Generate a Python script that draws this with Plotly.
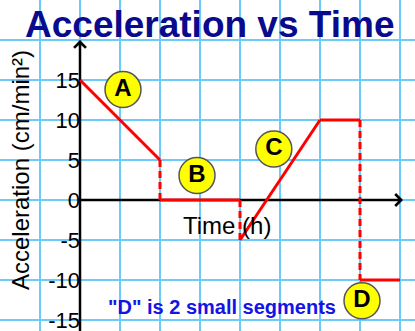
import plotly.graph_objects as go

# ---- data ----
# solid segments (time, acceleration)
seg_a_t = [0, 2];  seg_a_v = [15, 5]
seg_b_t = [2, 4];  seg_b_v = [0, 0]
seg_c_t = [4, 6];  seg_c_v = [-5, 10]
seg_c2_t = [6, 7]; seg_c2_v = [10, 10]
seg_d_t = [7, 8];  seg_d_v = [-10, -10]
# dashed jumps
jump1_t = [2, 2]; jump1_v = [5, 0]
jump2_t = [4, 4]; jump2_v = [0, -5]
jump3_t = [7, 7]; jump3_v = [10, -10]

label_text = ["A", "B", "C", "D"]
label_t = [1.075, 2.925, 4.845, 7.05]
label_v = [13.8, 3.06, 6.375, -12.6]

y_tick_vals = [-15, -10, -5, 0, 5, 10, 15, 20, 25]
y_tick_text = ["-15", "-10", "-5", "0", "5", "10", "15", "", ""]

RED = "#ff0000"
GRID = "#6ccbfb"

fig = go.Figure()

for t, v in [(seg_a_t, seg_a_v), (seg_b_t, seg_b_v), (seg_c_t, seg_c_v),
             (seg_c2_t, seg_c2_v), (seg_d_t, seg_d_v)]:
    fig.add_trace(go.Scatter(x=t, y=v, mode="lines",
                             line=dict(color=RED, width=3), hoverinfo="skip",
                             showlegend=False))
for t, v in [(jump1_t, jump1_v), (jump2_t, jump2_v), (jump3_t, jump3_v)]:
    fig.add_trace(go.Scatter(x=t, y=v, mode="lines",
                             line=dict(color=RED, width=3, dash="7px,4px"),
                             hoverinfo="skip", showlegend=False))

fig.add_trace(go.Scatter(
    x=label_t, y=label_v, mode="markers+text", text=label_text,
    textposition="middle center",
    marker=dict(size=36, color="#ffff00", line=dict(color="#555555", width=1.5)),
    textfont=dict(family="Liberation Sans", size=24, color="black", weight="bold"),
    hoverinfo="skip", showlegend=False))

# axis lines (between grid and traces)
fig.add_shape(type="line", x0=0, x1=0, y0=-17, y1=19.9, xref="x", yref="y",
              line=dict(color="black", width=2.5), layer="between")
fig.add_shape(type="line", x0=0, x1=8.05, y0=0, y1=0, xref="x", yref="y",
              line=dict(color="black", width=2.5), layer="between")

# arrow heads
fig.add_annotation(x=8.075, y=0, ax=7.9, ay=0, axref="x", ayref="y", xref="x", yref="y",
                   text="", showarrow=True, arrowhead=4, arrowwidth=2.5,
                   arrowsize=0.92, arrowcolor="black")
fig.add_annotation(x=0, y=20.0, ax=0, ay=19.0, axref="x", ayref="y", xref="x", yref="y",
                   text="", showarrow=True, arrowhead=4, arrowwidth=2.5,
                   arrowsize=0.92, arrowcolor="black")

# texts
fig.add_annotation(x=0.506, y=1 - 24 / 331, xref="paper", yref="paper",
                   text="Acceleration vs Time", showarrow=False,
                   font=dict(family="Liberation Sans", size=37, color="#0a0a8e", weight="bold"),
                   xanchor="center", yanchor="middle")
fig.add_annotation(x=-1.5, y=3.75, xref="x", yref="y", text="Acceleration (cm/min²)",
                   textangle=-90, showarrow=False,
                   font=dict(family="Liberation Sans", size=24, color="black"))
fig.add_annotation(x=3.67, y=-3.2, xref="x", yref="y", text="Time (h)",
                   showarrow=False,
                   font=dict(family="Liberation Sans", size=24, color="black"))
fig.add_annotation(x=3.56, y=-13.4, xref="x", yref="y", text='"D" is 2 small segments',
                   showarrow=False,
                   font=dict(family="Liberation Sans", size=20, color="#1414e6", weight="bold"))

fig.update_layout(
    width=415, height=331, margin=dict(l=0, r=0, t=0, b=0),
    paper_bgcolor="white", plot_bgcolor="white",
    xaxis=dict(range=[-2, 8.375], tick0=0, dtick=1, showgrid=True, gridcolor=GRID,
               gridwidth=1.5, showticklabels=False, zeroline=False, showline=False,
               ticks="", fixedrange=True),
    yaxis=dict(range=[-16.375, 25], tickmode="array", tickvals=y_tick_vals,
               ticktext=y_tick_text, anchor="free", position=80 / 415,
               ticklabeloverflow="allow",
               showgrid=True, gridcolor=GRID, gridwidth=1.5, zeroline=False,
               showline=False, ticks="", automargin=False, fixedrange=True,
               tickfont=dict(family="Liberation Sans", size=22, color="black")),
)

fig.write_html("out.html")
